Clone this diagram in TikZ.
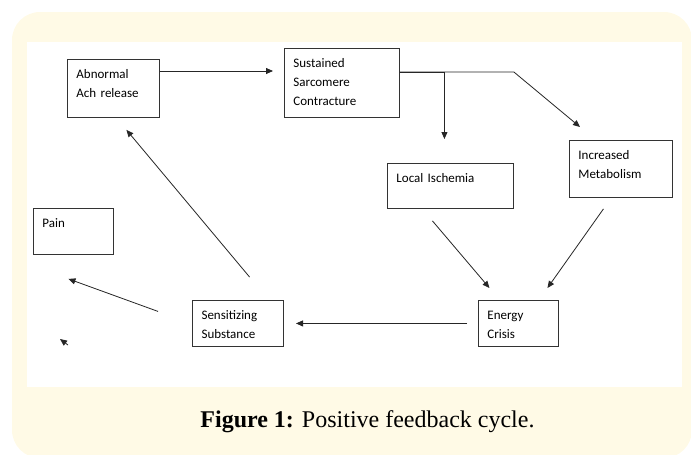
\documentclass[tikz,border=0pt]{standalone}
\usepackage{fontspec}
\setmainfont{Liberation Serif}
\newfontfamily\carlito{Carlito}
\usepackage{xcolor}
\usetikzlibrary{arrows.meta,positioning}
\definecolor{creambg}{RGB}{255,250,230}

\begin{document}
\begin{tikzpicture}[
    x=1pt, y=-1pt,
    tbox/.style 2 args={draw=black!80, line width=0.9pt, anchor=north west, align=left,
      font=\carlito\fontsize{13}{19}\selectfont, inner xsep=9pt, inner ysep=0pt,
      text height=19pt, text width={#1pt-18pt}, text depth={#2pt-19pt}},
    arrow/.style={-{Triangle[length=7pt, width=6pt]}, draw=black!85, line width=0.8pt}
  ]
    \useasboundingbox (0,0) rectangle (691,455);
    \fill[creambg, rounded corners=28pt] (12,12) rectangle (692,458);
    \fill[white] (27,42) rectangle (682,387);

    \node[tbox={92}{58}] (abnormal) at (67,59) {Abnormal\\Ach release};
    \node[tbox={115}{69}] (sustained) at (284,48) {Sustained\\Sarcomere\\Contracture};
    \node[tbox={126}{45}] (local) at (387,163) {Local Ischemia};
    \node[tbox={103}{57}] (increased) at (569,140) {Increased\\Metabolism};
    \node[tbox={80}{46}] (energy) at (478,300) {Energy\\Crisis};
    \node[tbox={91}{46}, left=194pt of energy] (sens) {Sensitizing\\Substance};
    \node[tbox={80}{46}] (pain) at (33,208) {Pain};
    \coordinate (stray) at (60,339);

    \draw[arrow] ([shift={(0,12)}]abnormal.north east) -- ([shift={(-11,23)}]sustained.north west);
    \draw[arrow] ([shift={(0,24)}]sustained.north east) -| ([shift={(-6,-24)}]local.north);
    \draw[arrow] ([shift={(0,24)}]sustained.north east) -- ++(114,0) -- ([shift={(11,-13)}]increased.north west);
    \draw[arrow] ([shift={(-18,12)}]local.south) -- ([shift={(-29,-12)}]energy.north);
    \draw[arrow] ([shift={(-17.5,11)}]increased.south) -- ([shift={(29,-12)}]energy.north);
    \draw[arrow] ([shift={(-11,0)}]energy.west) -- ([shift={(12,0)}]sens.east);
    \draw[arrow] ([shift={(11.5,-23)}]sens.north) -- ([shift={(13,12)}]abnormal.south);
    \draw[arrow] ([shift={(-34,-12)}]sens.west) -- ([shift={(-5,24)}]pain.south);
    \draw[arrow] ([shift={(8,6)}]stray) -- (stray);

    \node[anchor=base, font=\fontsize{24}{28}\selectfont, inner sep=0pt] (caption) at (367.5,427)
      {\textbf{Figure 1:} Positive feedback cycle.};
  \end{tikzpicture}
\end{document}
